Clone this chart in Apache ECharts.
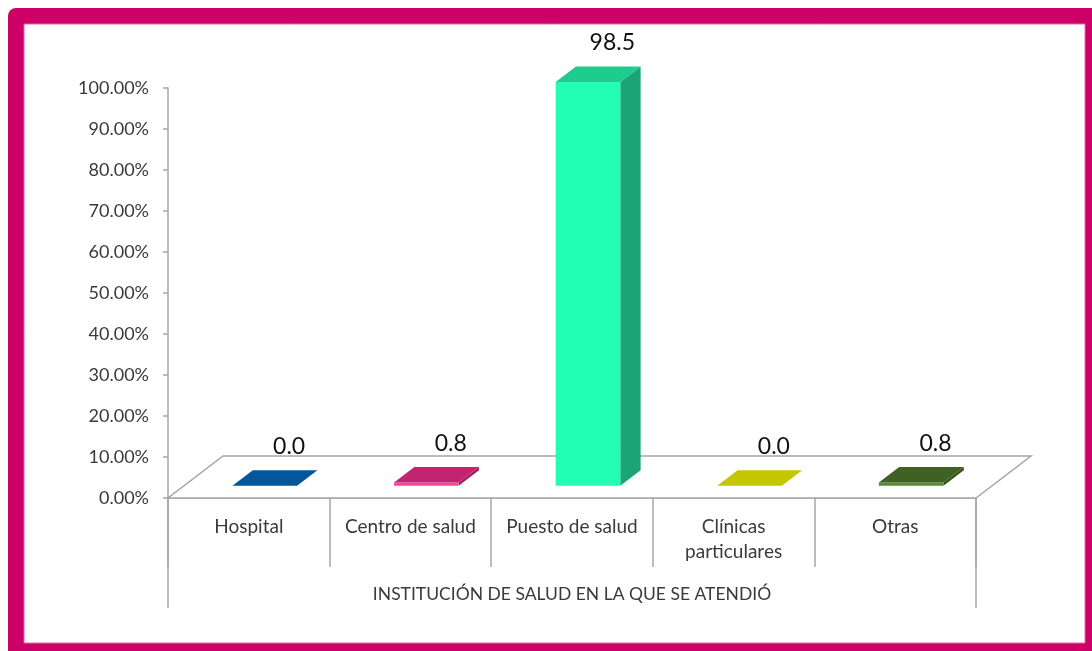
<!DOCTYPE html>
<html>
<head>
<meta charset="utf-8">
<title>Institución de salud en la que se atendió</title>
<script src="https://cdn.jsdelivr.net/npm/echarts@6/dist/echarts.min.js"></script>
<style>
  html, body { margin: 0; padding: 0; background: #ffffff; }
  #chart { width: 1092px; height: 651px; }
</style>
</head>
<body>
<div id="chart"></div>
<script>
// Chart data
const categories = ['Hospital', 'Centro de salud', 'Puesto de salud', 'Clínicas\nparticulares', 'Otras'];
const values = [0.0, 0.8, 98.5, 0.0, 0.8];
const axisTitle = 'INSTITUCIÓN DE SALUD EN LA QUE SE ATENDIÓ';
const yMin = 0, yMax = 100, yStep = 10;

// Face colours for each bar: [front, top, side]
const barPalette = [
  ['#1a6fb0', '#02579a', '#014a82'],
  ['#f04a9c', '#c2246f', '#a51d5e'],
  ['#22ffb4', '#1fcb8e', '#1ba476'],
  ['#dede10', '#c6c600', '#a8a800'],
  ['#5a8a38', '#3f6123', '#34521c']
];

// Oblique projection of the floor depth (screen pixels)
const DEPTH_X = 55, DEPTH_Y = -42;
const BAR_FRONT = 0.29, BAR_BACK = 0.66, BAR_WIDTH = 0.4;
const GRID_LINE = '#a6a6a6';
const FONT = 'Lato, "Open Sans", sans-serif';

const chart = echarts.init(document.getElementById('chart'));

function floorItem(params, api) {
  const r = params.coordSys;
  const fl = [r.x, r.y + r.height];
  const fr = [r.x + r.width, r.y + r.height];
  const br = [fr[0] + DEPTH_X, fr[1] + DEPTH_Y];
  const bl = [fl[0] + DEPTH_X, fl[1] + DEPTH_Y];
  const lineStyle = { stroke: GRID_LINE, lineWidth: 1.5, fill: null };
  return {
    type: 'group',
    children: [
      { type: 'polygon', shape: { points: [fl, fr, br, bl] },
        style: { fill: '#ffffff', stroke: GRID_LINE, lineWidth: 1.5 } },
      // long dividers at both ends of the category band
      { type: 'line', shape: { x1: fl[0], y1: fl[1], x2: fl[0], y2: fl[1] + 110 }, style: lineStyle },
      { type: 'line', shape: { x1: fr[0], y1: fr[1], x2: fr[0], y2: fr[1] + 110 }, style: lineStyle }
    ]
  };
}

function barItem(params, api) {
  const idx = api.value(0);
  const val = api.value(1);
  const base = api.coord([idx, 0]);
  const top = api.coord([idx, val]);
  const band = api.size([1, 0])[0];
  const w = band * BAR_WIDTH;
  const fx = base[0] - w / 2 + BAR_FRONT * DEPTH_X;
  const fyBottom = base[1] + BAR_FRONT * DEPTH_Y;
  const fyTop = top[1] + BAR_FRONT * DEPTH_Y;
  const ddx = (BAR_BACK - BAR_FRONT) * DEPTH_X;
  const ddy = (BAR_BACK - BAR_FRONT) * DEPTH_Y;
  const c = barPalette[idx];
  const children = [
    // right side face
    { type: 'polygon', shape: { points: [
        [fx + w, fyTop], [fx + w + ddx, fyTop + ddy],
        [fx + w + ddx, fyBottom + ddy], [fx + w, fyBottom]] },
      style: { fill: c[2] } },
    // front face
    { type: 'rect', shape: { x: fx, y: fyTop, width: w, height: fyBottom - fyTop },
      style: { fill: c[0] } },
    // top face
    { type: 'polygon', shape: { points: [
        [fx, fyTop], [fx + w, fyTop], [fx + w + ddx, fyTop + ddy], [fx + ddx, fyTop + ddy]] },
      style: { fill: c[1] } },
    // value label
    { type: 'text',
      x: fx + w / 2 + ddx + 4, y: fyTop + ddy - 12,
      style: { text: values[idx].toFixed(1), fill: '#111111', font: '23px ' + FONT,
               align: 'center', verticalAlign: 'bottom' } }
  ];
  return { type: 'group', children: children };
}

chart.setOption({
  backgroundColor: '#ffffff',
  animation: false,
  graphic: [
    { type: 'rect', z: 0, shape: { x: 8, y: 8, width: 1100, height: 660, r: 8 },
      style: { fill: '#cc0066' } },
    { type: 'rect', z: 0, shape: { x: 24, y: 24, width: 1061, height: 619 },
      style: { fill: '#ffffff', stroke: '#e56aa6', lineWidth: 1 } }
  ],
  grid: { left: 168, right: 116, top: 88, bottom: 153 },
  xAxis: {
    type: 'category',
    data: categories,
    axisLine: { show: true, lineStyle: { color: GRID_LINE, width: 1.5 } },
    axisTick: { show: true, interval: 0, length: 69, lineStyle: { color: GRID_LINE, width: 1.5 } },
    axisLabel: { interval: 0, hideOverlap: false, margin: 16, color: '#3a3a3a',
                 fontSize: 19, fontFamily: FONT, lineHeight: 25 },
    name: axisTitle,
    nameLocation: 'middle',
    nameGap: 87,
    nameTextStyle: { color: '#3a3a3a', fontSize: 17.5, fontFamily: FONT }
  },
  yAxis: {
    type: 'value',
    min: yMin, max: yMax, interval: yStep,
    axisLine: { show: true, lineStyle: { color: GRID_LINE, width: 1.5 } },
    axisTick: { show: true, length: 5, lineStyle: { color: GRID_LINE, width: 1.5 } },
    splitLine: { show: false },
    axisLabel: { margin: 19, color: '#3a3a3a', fontSize: 18, fontFamily: FONT,
                 formatter: v => v.toFixed(2) + '%' }
  },
  series: [
    { type: 'custom', renderItem: floorItem, data: [[0]], silent: true, z: 1 },
    { type: 'custom', renderItem: barItem, z: 3,
      encode: { x: 0, y: 1 },
      data: values.map((v, i) => [i, v]) }
  ]
});
</script>
</body>
</html>
